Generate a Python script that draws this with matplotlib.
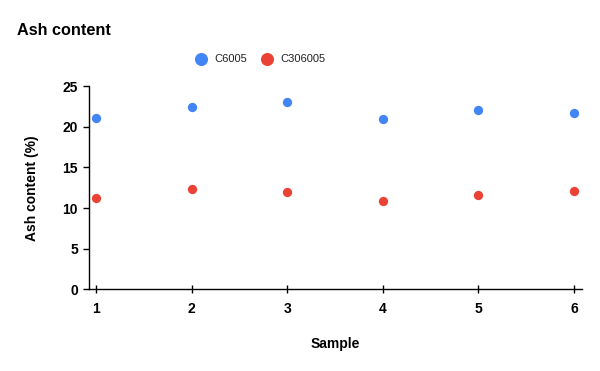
import numpy as np
import matplotlib.pyplot as plt

plt.rcParams['font.family'] = ['Liberation Sans', 'DejaVu Sans']

samples = [1, 2, 3, 4, 5, 6]
c6005 = [21.1, 22.4, 23.0, 20.9, 22.1, 21.7]
c306005 = [11.2, 12.4, 12.0, 10.9, 11.6, 12.1]

fig = plt.figure(figsize=(6, 3.71), dpi=100)
ax = fig.add_axes([0.1483, 0.2202, 0.8212, 0.5478])

ax.scatter(samples, c6005, s=45, color='#4285F4', label='C6005', zorder=3, linewidths=0)
ax.scatter(samples, c306005, s=45, color='#EA4335', label='C306005', zorder=3, linewidths=0)

ax.set_xlim(0.927, 6.08)
ax.set_ylim(0, 25)
ax.set_xticks(samples)
ax.set_yticks([0, 5, 10, 15, 20, 25])
for s in ['top', 'right']:
    ax.spines[s].set_visible(False)
for s in ['left', 'bottom']:
    ax.spines[s].set_linewidth(1.0)
ax.tick_params(axis='y', direction='out', length=4, width=1, pad=4)
ax.tick_params(axis='x', direction='inout', length=6, width=1, pad=6)
for lab in ax.get_xticklabels() + ax.get_yticklabels():
    lab.set_fontweight('bold')
    lab.set_fontsize(10)

ax.set_xlabel('Sample', fontsize=10, fontweight='bold', labelpad=15)
ax.set_ylabel('Ash content (%)', fontsize=10, fontweight='bold', labelpad=17)

fig.text(0.028, 0.918, 'Ash content', fontsize=11.7, fontweight='bold', ha='left', va='center')
fig.legend(loc='center', bbox_to_anchor=(0.43, 0.842), ncol=2, frameon=False,
           fontsize=8, handletextpad=0.2, columnspacing=0.8, markerscale=1.4,
           labelcolor='#222222')

fig.savefig('out.png', dpi=100)
